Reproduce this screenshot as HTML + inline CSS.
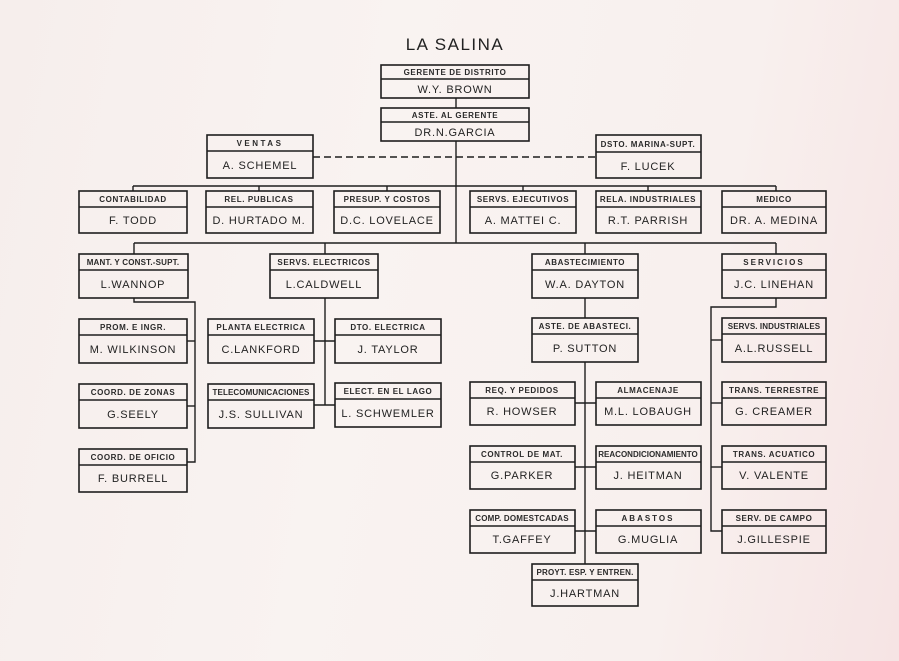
<!DOCTYPE html>
<html><head><meta charset="utf-8"><style>
html,body{margin:0;padding:0;width:899px;height:661px;overflow:hidden}
body{background:linear-gradient(100deg,#f6eeec 0%,#f9f3f1 40%,#f8f0ee 75%,#f6e4e4 100%)}
svg{display:block}
.h{font:bold 8px "Liberation Sans",sans-serif;letter-spacing:0.6px;fill:#2a2a2a;text-anchor:middle}
.n{font:11px "Liberation Sans",sans-serif;letter-spacing:0.8px;fill:#222;text-anchor:middle}
rect{fill:none;stroke:#1e1e1e;stroke-width:1.6}
line,polyline{stroke:#1e1e1e;stroke-width:1.4;fill:none}
</style></head><body>
<svg width="899" height="661" viewBox="0 0 899 661" xmlns="http://www.w3.org/2000/svg">
<text x="455" y="50" style="font:17px 'Liberation Sans',sans-serif;letter-spacing:1.5px;fill:#222;text-anchor:middle">LA SALINA</text>

<!-- connectors -->
<line x1="456" y1="98" x2="456" y2="108"/>
<line x1="456" y1="141" x2="456" y2="243"/>
<line x1="313" y1="157" x2="596" y2="157" stroke-dasharray="7,4"/>
<line x1="133" y1="186" x2="776" y2="186"/>
<line x1="133" y1="186" x2="133" y2="191"/>
<line x1="259" y1="186" x2="259" y2="191"/>
<line x1="387" y1="186" x2="387" y2="191"/>
<line x1="523" y1="186" x2="523" y2="191"/>
<line x1="648" y1="186" x2="648" y2="191"/>
<line x1="776" y1="186" x2="776" y2="191"/>
<line x1="134" y1="243" x2="776" y2="243"/>
<line x1="134" y1="243" x2="134" y2="254"/>
<line x1="325" y1="243" x2="325" y2="254"/>
<line x1="585" y1="243" x2="585" y2="254"/>
<line x1="776" y1="243" x2="776" y2="254"/>
<!-- Wannop -->
<polyline points="134,298 134,302 195,302 195,462 187,462"/>
<line x1="187" y1="341" x2="195" y2="341"/>
<line x1="187" y1="406" x2="195" y2="406"/>
<!-- Caldwell -->
<line x1="325" y1="298" x2="325" y2="405"/>
<line x1="314" y1="341" x2="335" y2="341"/>
<line x1="314" y1="405" x2="335" y2="405"/>
<!-- Abastecimiento -->
<line x1="585" y1="298" x2="585" y2="318"/>
<line x1="585" y1="362" x2="585" y2="564"/>
<line x1="575" y1="403" x2="596" y2="403"/>
<line x1="575" y1="467" x2="596" y2="467"/>
<line x1="575" y1="531" x2="596" y2="531"/>
<!-- Servicios -->
<polyline points="776,298 776,307 711,307 711,531 722,531"/>
<line x1="711" y1="340" x2="722" y2="340"/>
<line x1="711" y1="403" x2="722" y2="403"/>
<line x1="711" y1="467" x2="722" y2="467"/>

<!-- boxes -->
<g>
<rect x="381" y="65" width="148" height="33"/><line x1="381" y1="79" x2="529" y2="79"/>
<text class="h" x="455" y="75">GERENTE DE DISTRITO</text><text class="n" x="455" y="93">W.Y. BROWN</text>

<rect x="381" y="108" width="148" height="33"/><line x1="381" y1="122" x2="529" y2="122"/>
<text class="h" x="455" y="118">ASTE. AL GERENTE</text><text class="n" x="455" y="136">DR.N.GARCIA</text>

<rect x="207" y="135" width="106" height="43"/><line x1="207" y1="151" x2="313" y2="151"/>
<text class="h" x="260" y="146" style="letter-spacing:2.5px">VENTAS</text><text class="n" x="260" y="169">A. SCHEMEL</text>

<rect x="596" y="135" width="105" height="43"/><line x1="596" y1="152" x2="701" y2="152"/>
<text class="h" x="648" y="147">DSTO. MARINA-SUPT.</text><text class="n" x="648" y="170">F. LUCEK</text>
</g>

<!-- row 2 -->
<g>
<rect x="79" y="191" width="108" height="42"/><line x1="79" y1="207" x2="187" y2="207"/>
<text class="h" x="133" y="202">CONTABILIDAD</text><text class="n" x="133" y="224">F. TODD</text>
<rect x="206" y="191" width="107" height="42"/><line x1="206" y1="207" x2="313" y2="207"/>
<text class="h" x="259" y="202">REL. PUBLICAS</text><text class="n" x="259" y="224">D. HURTADO M.</text>
<rect x="334" y="191" width="106" height="42"/><line x1="334" y1="207" x2="440" y2="207"/>
<text class="h" x="387" y="202">PRESUP. Y COSTOS</text><text class="n" x="387" y="224">D.C. LOVELACE</text>
<rect x="470" y="191" width="106" height="42"/><line x1="470" y1="207" x2="576" y2="207"/>
<text class="h" x="523" y="202">SERVS. EJECUTIVOS</text><text class="n" x="523" y="224">A. MATTEI C.</text>
<rect x="596" y="191" width="105" height="42"/><line x1="596" y1="207" x2="701" y2="207"/>
<text class="h" x="648" y="202">RELA. INDUSTRIALES</text><text class="n" x="648" y="224">R.T. PARRISH</text>
<rect x="722" y="191" width="104" height="42"/><line x1="722" y1="207" x2="826" y2="207"/>
<text class="h" x="774" y="202">MEDICO</text><text class="n" x="774" y="224">DR. A. MEDINA</text>
</g>

<!-- row 3 -->
<g>
<rect x="79" y="254" width="109" height="44"/><line x1="79" y1="270" x2="188" y2="270"/>
<text class="h" x="133" y="265" style="letter-spacing:0.2px">MANT. Y CONST.-SUPT.</text><text class="n" x="133" y="288">L.WANNOP</text>
<rect x="270" y="254" width="108" height="44"/><line x1="270" y1="270" x2="378" y2="270"/>
<text class="h" x="324" y="265">SERVS. ELECTRICOS</text><text class="n" x="324" y="288">L.CALDWELL</text>
<rect x="532" y="254" width="106" height="44"/><line x1="532" y1="270" x2="638" y2="270"/>
<text class="h" x="585" y="265">ABASTECIMIENTO</text><text class="n" x="585" y="288">W.A. DAYTON</text>
<rect x="722" y="254" width="104" height="44"/><line x1="722" y1="270" x2="826" y2="270"/>
<text class="h" x="774" y="265" style="letter-spacing:2px">SERVICIOS</text><text class="n" x="774" y="288">J.C. LINEHAN</text>
</g>

<!-- Wannop children -->
<g>
<rect x="79" y="319" width="108" height="44"/><line x1="79" y1="335" x2="187" y2="335"/>
<text class="h" x="133" y="330">PROM. E INGR.</text><text class="n" x="133" y="353">M. WILKINSON</text>
<rect x="79" y="384" width="108" height="44"/><line x1="79" y1="400" x2="187" y2="400"/>
<text class="h" x="133" y="395">COORD. DE ZONAS</text><text class="n" x="133" y="418">G.SEELY</text>
<rect x="79" y="449" width="108" height="43"/><line x1="79" y1="465" x2="187" y2="465"/>
<text class="h" x="133" y="460">COORD. DE OFICIO</text><text class="n" x="133" y="482">F. BURRELL</text>
</g>

<!-- Caldwell children -->
<g>
<rect x="208" y="319" width="106" height="44"/><line x1="208" y1="335" x2="314" y2="335"/>
<text class="h" x="261" y="330">PLANTA ELECTRICA</text><text class="n" x="261" y="353">C.LANKFORD</text>
<rect x="335" y="319" width="106" height="44"/><line x1="335" y1="335" x2="441" y2="335"/>
<text class="h" x="388" y="330">DTO. ELECTRICA</text><text class="n" x="388" y="353">J. TAYLOR</text>
<rect x="208" y="384" width="106" height="44"/><line x1="208" y1="400" x2="314" y2="400"/>
<text class="h" x="261" y="395" style="letter-spacing:0.1px">TELECOMUNICACIONES</text><text class="n" x="261" y="418">J.S. SULLIVAN</text>
<rect x="335" y="383" width="106" height="44"/><line x1="335" y1="399" x2="441" y2="399"/>
<text class="h" x="388" y="394">ELECT. EN EL LAGO</text><text class="n" x="388" y="417">L. SCHWEMLER</text>
</g>

<!-- Abastecimiento children -->
<g>
<rect x="532" y="318" width="106" height="44"/><line x1="532" y1="334" x2="638" y2="334"/>
<text class="h" x="585" y="329">ASTE. DE ABASTECI.</text><text class="n" x="585" y="352">P. SUTTON</text>
<rect x="470" y="382" width="105" height="43"/><line x1="470" y1="398" x2="575" y2="398"/>
<text class="h" x="522" y="393">REQ. Y PEDIDOS</text><text class="n" x="522" y="415">R. HOWSER</text>
<rect x="596" y="382" width="105" height="43"/><line x1="596" y1="398" x2="701" y2="398"/>
<text class="h" x="648" y="393">ALMACENAJE</text><text class="n" x="648" y="415">M.L. LOBAUGH</text>
<rect x="470" y="446" width="105" height="43"/><line x1="470" y1="462" x2="575" y2="462"/>
<text class="h" x="522" y="457">CONTROL DE MAT.</text><text class="n" x="522" y="479">G.PARKER</text>
<rect x="596" y="446" width="105" height="43"/><line x1="596" y1="462" x2="701" y2="462"/>
<text class="h" x="648" y="457" style="letter-spacing:0px">REACONDICIONAMIENTO</text><text class="n" x="648" y="479">J. HEITMAN</text>
<rect x="470" y="510" width="105" height="43"/><line x1="470" y1="526" x2="575" y2="526"/>
<text class="h" x="522" y="521" style="letter-spacing:0.2px">COMP. DOMESTCADAS</text><text class="n" x="522" y="543">T.GAFFEY</text>
<rect x="596" y="510" width="105" height="43"/><line x1="596" y1="526" x2="701" y2="526"/>
<text class="h" x="648" y="521" style="letter-spacing:2px">ABASTOS</text><text class="n" x="648" y="543">G.MUGLIA</text>
<rect x="532" y="564" width="106" height="42"/><line x1="532" y1="580" x2="638" y2="580"/>
<text class="h" x="585" y="575" style="letter-spacing:0.2px">PROYT. ESP. Y ENTREN.</text><text class="n" x="585" y="597">J.HARTMAN</text>
</g>

<!-- Servicios children -->
<g>
<rect x="722" y="318" width="104" height="44"/><line x1="722" y1="334" x2="826" y2="334"/>
<text class="h" x="774" y="329" style="letter-spacing:0.1px">SERVS. INDUSTRIALES</text><text class="n" x="774" y="352">A.L.RUSSELL</text>
<rect x="722" y="382" width="104" height="43"/><line x1="722" y1="398" x2="826" y2="398"/>
<text class="h" x="774" y="393">TRANS. TERRESTRE</text><text class="n" x="774" y="415">G. CREAMER</text>
<rect x="722" y="446" width="104" height="43"/><line x1="722" y1="462" x2="826" y2="462"/>
<text class="h" x="774" y="457">TRANS. ACUATICO</text><text class="n" x="774" y="479">V. VALENTE</text>
<rect x="722" y="510" width="104" height="43"/><line x1="722" y1="526" x2="826" y2="526"/>
<text class="h" x="774" y="521">SERV. DE CAMPO</text><text class="n" x="774" y="543">J.GILLESPIE</text>
</g>
</svg>
</body></html>
